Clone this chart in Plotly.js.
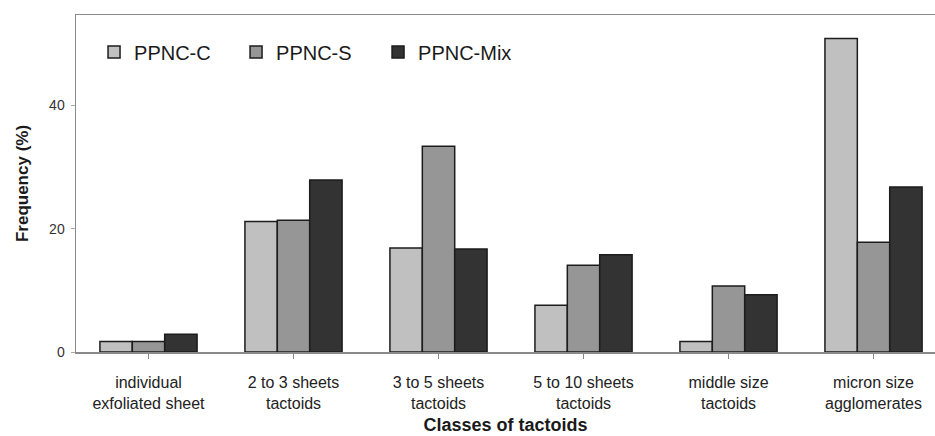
<!DOCTYPE html>
<html>
<head>
<meta charset="utf-8">
<script src="https://cdn.plot.ly/plotly-3.0.1.min.js"></script>
<style>html,body{margin:0;padding:0;background:#fff;}#chart{width:935px;height:436px;}</style>
</head>
<body>
<div id="chart"></div>
<script>
var categories = [
  "individual<br>exfoliated sheet",
  "2 to 3 sheets<br>tactoids",
  "3 to 5 sheets<br>tactoids",
  "5 to 10 sheets<br>tactoids",
  "middle size<br>tactoids",
  "micron size<br>agglomerates"
];
var seriesNames = ["PPNC-C", "PPNC-S", "PPNC-Mix"];
var ppncC   = [1.7, 21.2, 16.9, 7.6, 1.7, 50.9];
var ppncS   = [1.7, 21.4, 33.4, 14.1, 10.7, 17.8];
var ppncMix = [2.9, 27.9, 16.7, 15.8, 9.3, 26.8];
var yTicks = [0, 20, 40];
var colors = ["#c0c0c0", "#969696", "#333333"];

var xIdx = categories.map(function(_, i){ return i; });
var allVals = [ppncC, ppncS, ppncMix];
var traces = allVals.map(function(v, k){
  return {
    type: "bar",
    name: seriesNames[k],
    x: xIdx,
    y: v,
    marker: {color: colors[k], line: {color: "#1c1c1c", width: 1.5}},
    hoverinfo: "skip"
  };
});

var layout = {
  width: 935, height: 436,
  margin: {l: 76, r: 0, t: 15, b: 84},
  paper_bgcolor: "#ffffff",
  plot_bgcolor: "#ffffff",
  barmode: "group",
  bargap: 0.33,
  bargroupgap: 0,
  showlegend: true,
  legend: {
    orientation: "h",
    x: 0.021, y: 0.89, xanchor: "left", yanchor: "middle",
    bgcolor: "rgba(0,0,0,0)",
    font: {family: "Liberation Sans, Arial, sans-serif", size: 20, color: "#1a1a1a"},
    entrywidth: 97, entrywidthmode: "pixels",
    itemwidth: 30
  },
  xaxis: {
    range: [-0.5, 5.424],
    tickmode: "array",
    tickvals: xIdx,
    ticktext: categories,
    tickson: "boundaries",
    ticks: "outside", ticklen: 5, tickcolor: "#888888", tickwidth: 1,
    ticklabelstandoff: 10,
    showline: true, linecolor: "#8a8a8a", linewidth: 1.5, mirror: true,
    showgrid: false, zeroline: false,
    tickfont: {family: "Liberation Sans, Arial, sans-serif", size: 16, color: "#222222"},
    title: {text: "<b>Classes of tactoids</b>", standoff: 8,
      font: {family: "Liberation Sans, Arial, sans-serif", size: 18, color: "#1a1a1a"}}
  },
  yaxis: {
    range: [0, 54.7],
    tickmode: "array",
    tickvals: yTicks,
    ticktext: yTicks.map(String),
    ticks: "outside", ticklen: 4, tickcolor: "#aaaaaa",
    ticklabelstandoff: 3,
    showline: true, linecolor: "#8a8a8a", linewidth: 1.5,
    showgrid: false, zeroline: false,
    tickfont: {family: "Liberation Sans, Arial, sans-serif", size: 14, color: "#333333"},
    title: {text: "<b>Frequency (%)</b>", standoff: 16,
      font: {family: "Liberation Sans, Arial, sans-serif", size: 17, color: "#1a1a1a"}}
  }
};

Plotly.newPlot("chart", traces, layout, {displayModeBar: false, staticPlot: true});
</script>
</body>
</html>
